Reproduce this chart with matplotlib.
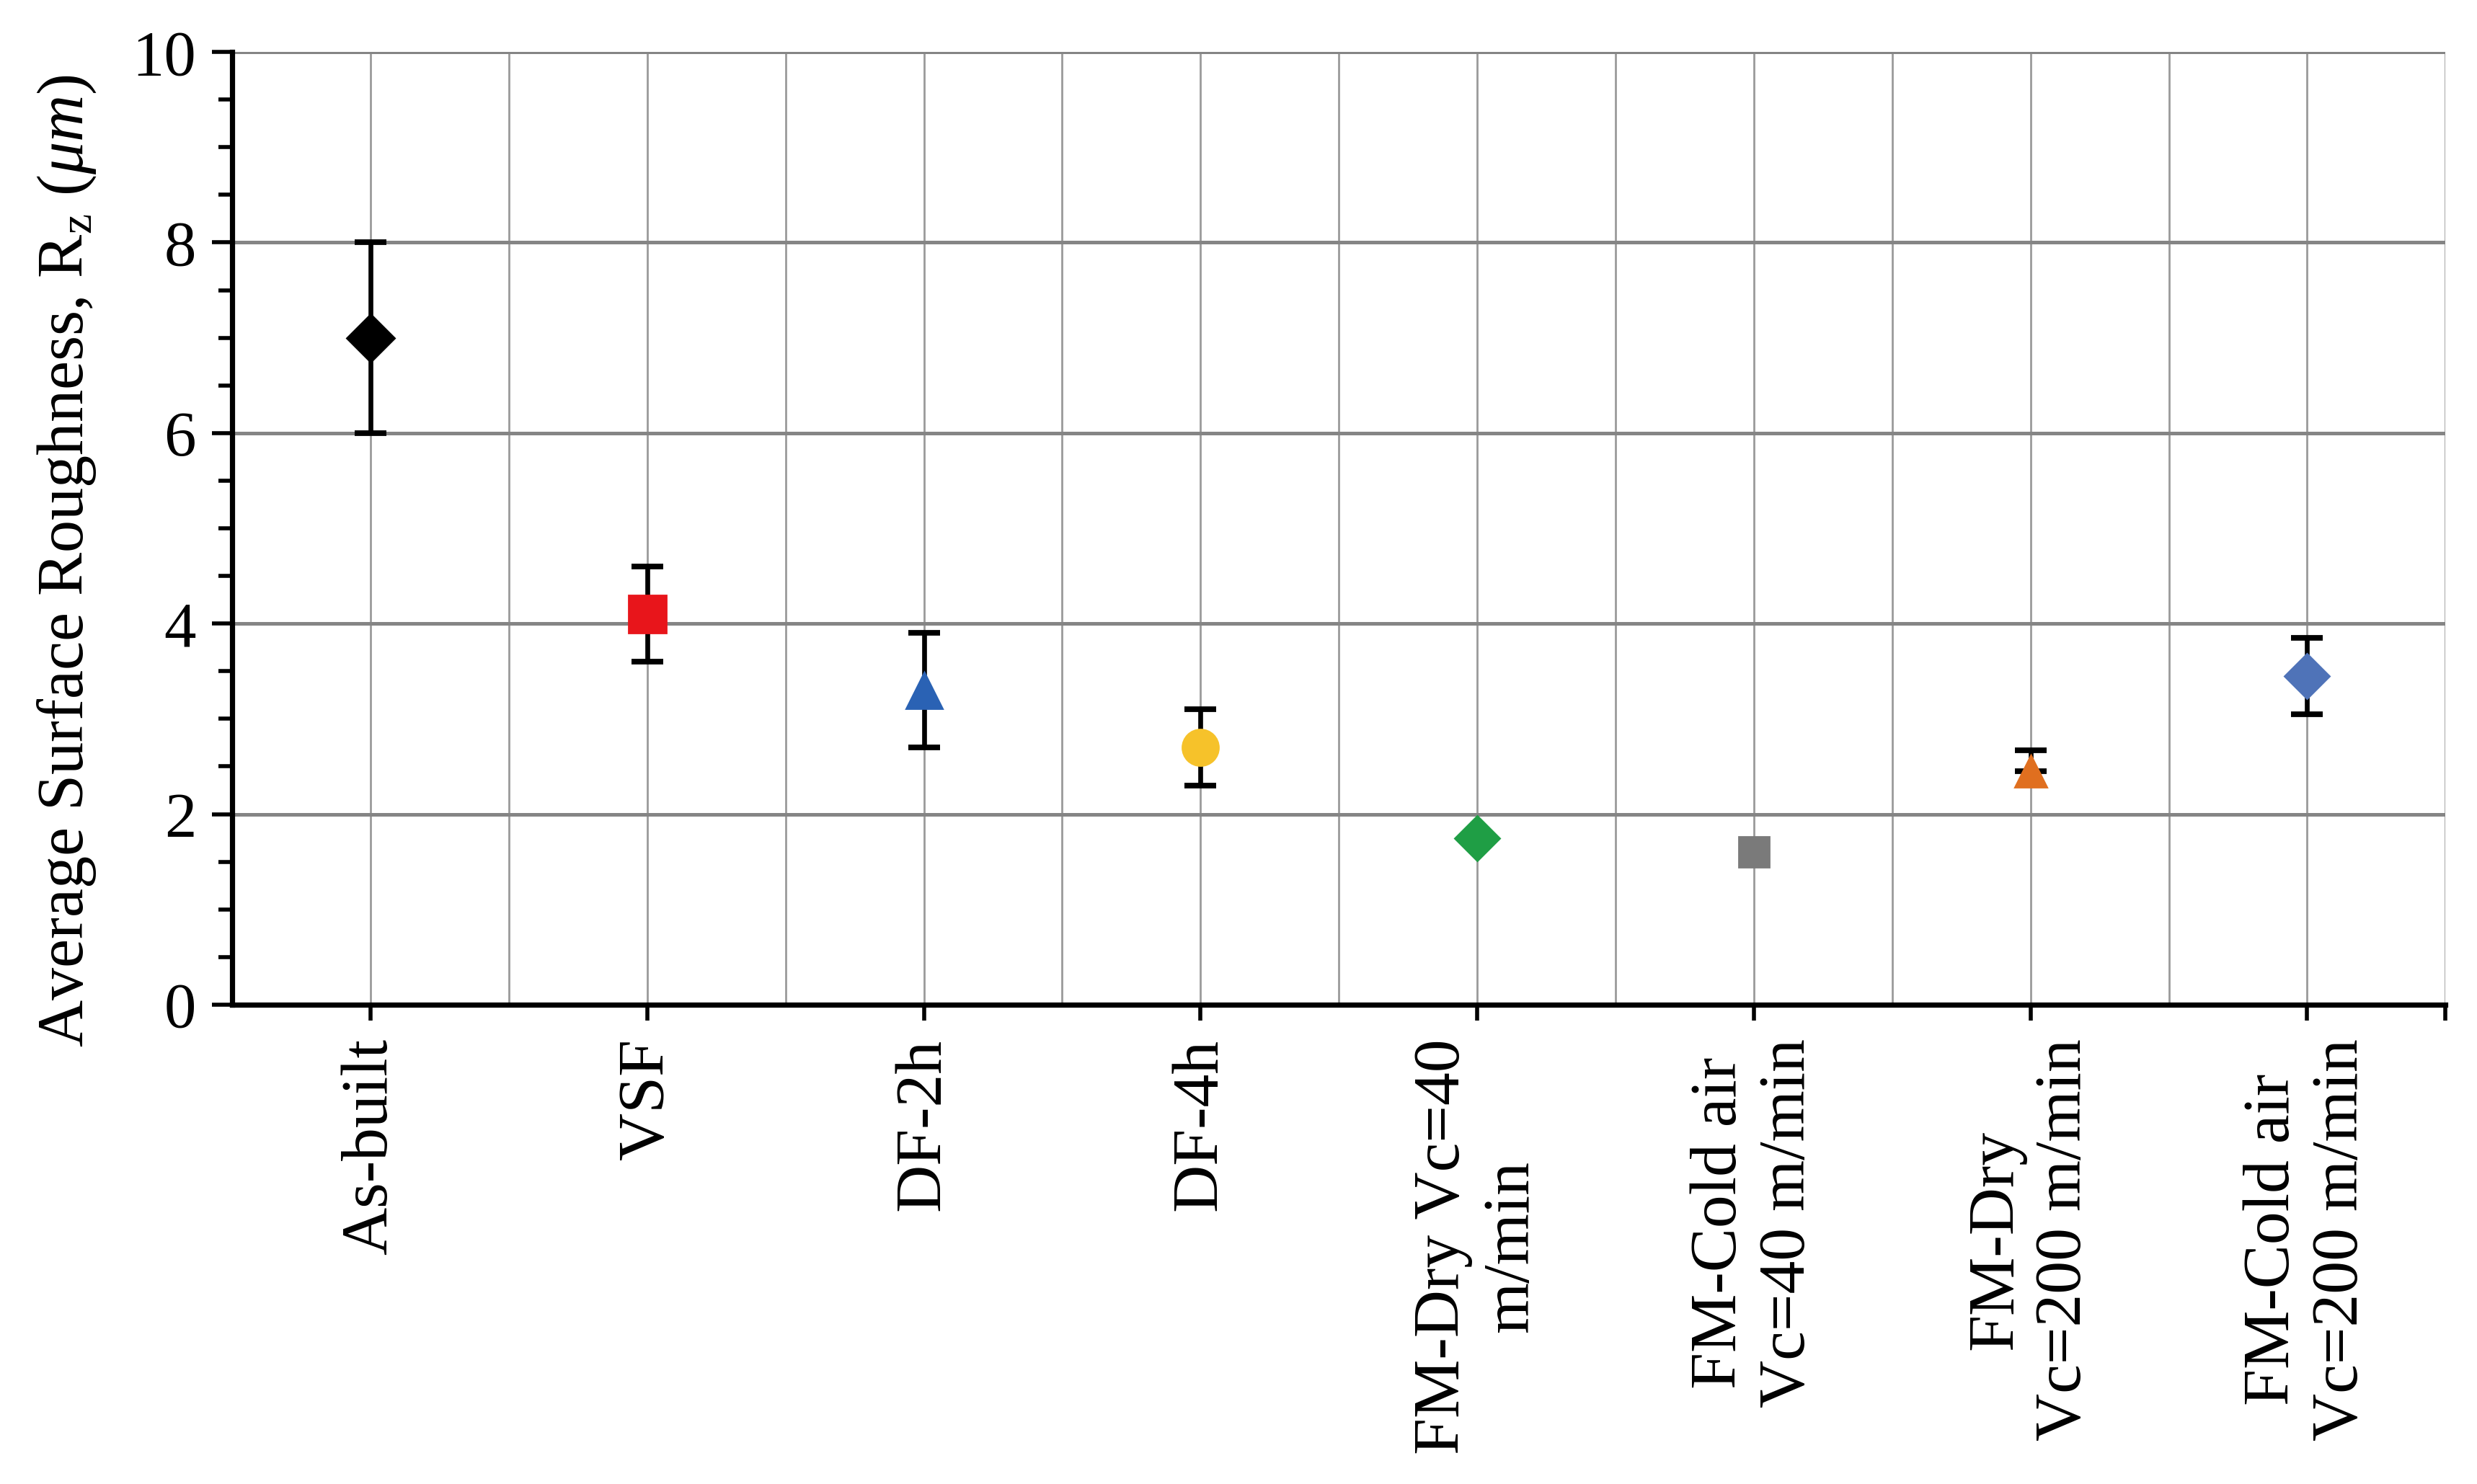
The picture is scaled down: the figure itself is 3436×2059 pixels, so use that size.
import matplotlib
matplotlib.use("Agg")
import matplotlib.pyplot as plt
from matplotlib.ticker import MultipleLocator, FixedLocator
import numpy as np

categories = ["As-built", "VSF", "DF-2h", "DF-4h", "FM-Dry Vc=40\nm/min",
              "FM-Cold air\nVc=40 m/min", "FM-Dry\nVc=200 m/min",
              "FM-Cold air\nVc=200 m/min"]
values = [7.0, 4.1, 3.3, 2.7, 1.75, 1.6, 2.45, 3.45]
err_low = [1.0, 0.5, 0.6, 0.4, 0.0, 0.0, 0.0, 0.4]
err_high = [1.0, 0.5, 0.6, 0.4, 0.0, 0.0, 0.22, 0.4]
markers = ["D", "s", "^", "o", "D", "s", "^", "D"]
colors = ["#000000", "#e8151b", "#2a62b4", "#f6c22a", "#1f9e45",
          "#7a7a7a", "#e06f1f", "#4f73b8"]
msizes = [17, 19, 18, 18, 16, 15, 16, 16]
yticks = [0, 2, 4, 6, 8, 10]

plt.rcParams['font.family'] = ['Liberation Serif', 'DejaVu Serif']
plt.rcParams['mathtext.fontset'] = 'custom'
plt.rcParams['mathtext.rm'] = 'Liberation Serif'
plt.rcParams['mathtext.it'] = 'Liberation Serif:italic'

fig = plt.figure(figsize=(17.185, 10.295), dpi=200)
ax = fig.add_axes([0.0937, 0.323, 0.8933, 0.642])

x = np.arange(1, len(categories) + 1)

# grid
ax.set_axisbelow(True)
for xm in np.arange(1.5, len(categories) + 0.6, 1.0):
    ax.axvline(xm, color="#9a9a9a", lw=1.0, zorder=0)
ax.grid(axis='x', which='major', color="#9a9a9a", lw=1.0, zorder=0)
ax.grid(axis='y', which='major', color="#858585", lw=1.8, zorder=0)

for xi, v, lo, hi, m, c, s in zip(x, values, err_low, err_high, markers, colors, msizes):
    if lo > 0 or hi > 0:
        ax.errorbar(xi, v, yerr=[[lo], [hi]], fmt='none', ecolor='black',
                    elinewidth=2.4, capsize=8, capthick=2.8, zorder=2)
    ax.plot(xi, v, marker=m, color=c, markersize=s, markeredgecolor=c,
            linestyle='none', zorder=3)

ax.set_xlim(0.5, len(categories) + 0.5)
ax.set_ylim(0, 10)
ax.set_yticks(yticks)
ax.yaxis.set_minor_locator(MultipleLocator(0.5))
ax.set_xticks(x)
ax.set_xticklabels(categories, rotation=90, ha='center', va='top',
                   multialignment='center', fontsize=33)
ax.xaxis.set_minor_locator(FixedLocator([len(categories) + 0.5]))

for sp in ['top', 'right']:
    ax.spines[sp].set_visible(False)
for sp in ['left', 'bottom']:
    ax.spines[sp].set_linewidth(2.6)
    ax.spines[sp].set_color('black')

ax.tick_params(axis='y', which='major', direction='out', length=10, width=2.0,
               labelsize=32, pad=8)
ax.tick_params(axis='y', which='minor', direction='out', length=7, width=2.0)
ax.tick_params(axis='x', which='major', direction='out', length=8, width=2.0,
               pad=9)
ax.tick_params(axis='x', which='minor', direction='out', length=8, width=2.0)

ax.set_ylabel(r"Average Surface Roughness, R$_{\mathrm{z}}$ ($\mathit{\mu m}$)",
              fontsize=32.5)
ax.yaxis.set_label_coords(-0.0605, 0.466)

fig.savefig("out.png", dpi=200, facecolor='white')
